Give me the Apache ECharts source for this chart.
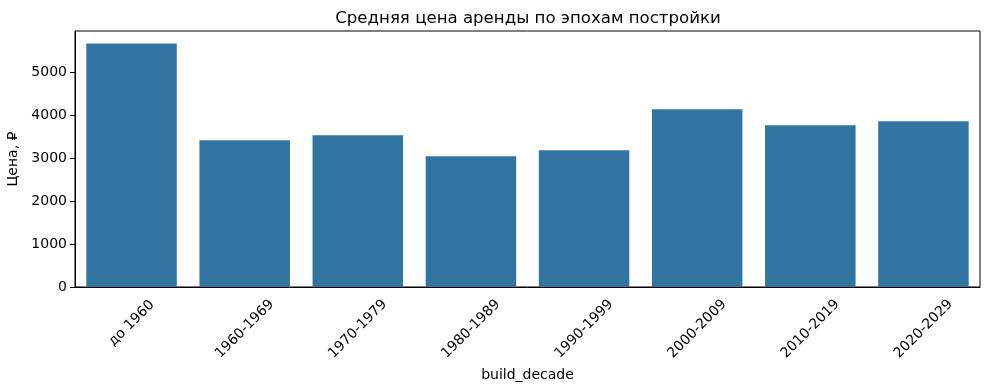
<!DOCTYPE html>
<html>
<head>
<meta charset="utf-8">
<script src="https://cdn.jsdelivr.net/npm/echarts@6/dist/echarts.min.js"></script>
<style>html,body{margin:0;padding:0;background:#fff;}#c{width:989px;height:390px;}</style>
</head>
<body>
<div id="c"></div>
<script>
const categories = ['до 1960', '1960-1969', '1970-1979', '1980-1989', '1990-1999', '2000-2009', '2010-2019', '2020-2029'];
const prices = [5660, 3412, 3528, 3040, 3179, 4133, 3760, 3853];
const yTicks = [0, 1000, 2000, 3000, 4000, 5000];
const titleText = 'Средняя цена аренды по эпохам постройки';
const yName = 'Цена, ₽';
const xName = 'build_decade';

const FONT = 'DejaVu Sans';
const chart = echarts.init(document.getElementById('c'), null, {renderer: 'canvas'});
chart.setOption({
  animation: false,
  backgroundColor: '#fff',
  title: {
    text: titleText,
    left: 523, textAlign: 'center', top: 5,
    textStyle: {fontFamily: FONT, fontSize: 16.6, fontWeight: 'normal', color: '#000'}
  },
  grid: {
    left: 75, top: 31, width: 905, height: 256,
    containLabel: false, outerBoundsMode: 'none',
    show: true, borderColor: '#000', borderWidth: 1, backgroundColor: 'transparent'
  },
  xAxis: {
    type: 'category',
    data: categories,
    name: xName,
    nameLocation: 'middle',
    nameGap: 79,
    nameTextStyle: {fontFamily: FONT, fontSize: 14, color: '#000'},
    axisLine: {lineStyle: {color: '#000', width: 1}},
    axisTick: {alignWithLabel: true, length: 5, lineStyle: {color: '#000', width: 1}},
    axisLabel: {
      interval: 0, rotate: 45, align: 'center', verticalAlign: 'middle', margin: 42,
      fontFamily: FONT, fontSize: 14, color: '#000',
      formatter: function (v, i) { return i === 0 ? '{s|' + v + '}' : v; },
      rich: {s: {fontFamily: FONT, fontSize: 14, color: '#000', padding: [0, 0, 8, 8]}}
    },
    splitLine: {show: false}
  },
  yAxis: {
    type: 'value',
    min: 0, max: 5950,
    name: yName,
    nameLocation: 'middle',
    nameGap: 52,
    nameRotate: 90,
    nameTextStyle: {fontFamily: FONT, fontSize: 14, color: '#000'},
    axisLine: {show: true, lineStyle: {color: '#000', width: 1}},
    axisTick: {show: true, length: 5, customValues: yTicks, lineStyle: {color: '#000', width: 1}},
    axisLabel: {customValues: yTicks, margin: 8, fontFamily: FONT, fontSize: 14, color: '#000',
      formatter: function (v) { return String(v); }},
    splitLine: {show: false}
  },
  series: [{
    type: 'bar',
    data: prices,
    barCategoryGap: '20%',
    itemStyle: {color: '#3274a1', borderWidth: 0}
  }]
});
</script>
</body>
</html>
